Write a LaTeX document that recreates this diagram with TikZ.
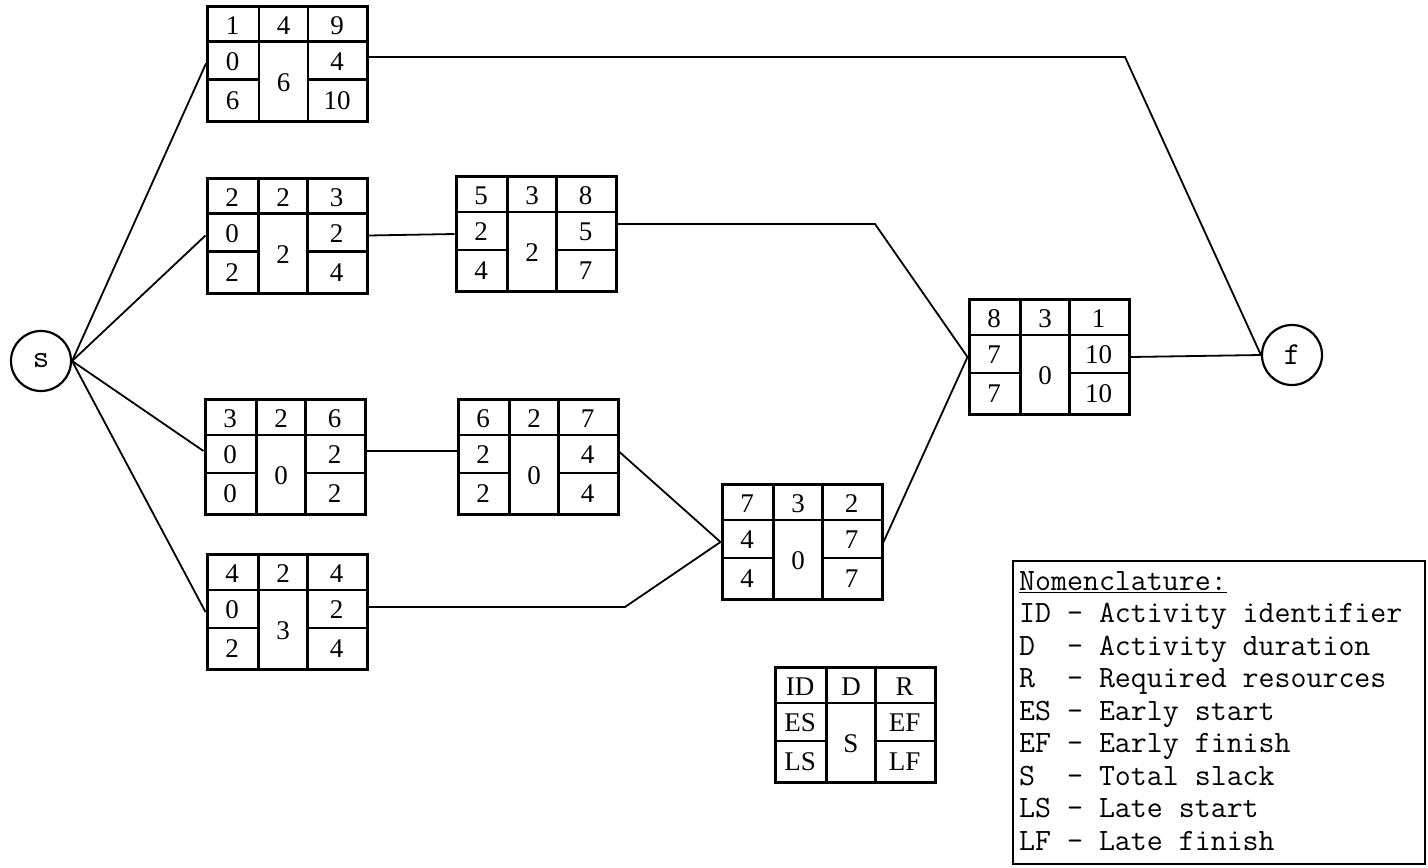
\documentclass[tikz,border=0pt]{standalone}
\usepackage{fontspec}
\setmainfont{Liberation Serif}
\usetikzlibrary{calc}
\tikzset{
  abox/.style={draw, line width=3pt, minimum width=160pt, minimum height=115pt, inner sep=0pt},
  inner/.style={line width=2.4pt},
  conn/.style={line width=1.8pt},
  term/.style={draw, circle, line width=2.2pt, minimum size=60pt, inner sep=0pt, font=\ttfamily\fontsize{32}{36}\selectfont},
  cell/.style={font=\fontsize{27}{32}\selectfont, inner sep=0pt}
}
\newcommand\fillbox[9]{%
  \begin{scope}[shift={(#1.north west)}]
    \draw[inner] (0,37) -- (160,37);
    \draw[inner] (53,0) -- (53,115);
    \draw[inner] (102,0) -- (102,115);
    \draw[inner] (0,75) -- (53,75);
    \draw[inner] (102,75) -- (160,75);
    \node[cell] (#1-id) at (26.5,21) {#2};
    \node[cell] (#1-d) at (77.5,21) {#3};
    \node[cell] (#1-r) at (131,21) {#4};
    \node[cell] (#1-es) at (26.5,57) {#5};
    \node[cell] (#1-s) at (77.5,78) {#6};
    \node[cell] (#1-ef) at (131,57) {#7};
    \node[cell] (#1-ls) at (26.5,96) {#8};
    \node[cell] (#1-lf) at (131,96) {#9};
  \end{scope}}
\begin{document}
\begin{tikzpicture}[x=1pt,y=-1pt]
\useasboundingbox[fill=white] (0,0) rectangle (1428,868);
% terminals
\node[term] (s) at (41,361) {s};
\node[term] (f) at (1292,355) {f};
% activity boxes
\node[abox] (a1) at (287.5,63.5) {};
\node[abox] (a2) at (287,235.5) {};
\node[abox] (a5) at (536,234) {};
\node[abox] (a3) at (285,457) {};
\node[abox] (a6) at (538,457) {};
\node[abox] (a4) at (287,612) {};
\node[abox] (a7) at (802,542) {};
\node[abox] (a8) at (1049,357) {};
\node[abox] (leg) at (855,725) {};
\fillbox{a1}{1}{4}{9}{0}{6}{4}{6}{10}
\fillbox{a2}{2}{2}{3}{0}{2}{2}{2}{4}
\fillbox{a5}{5}{3}{8}{2}{2}{5}{4}{7}
\fillbox{a3}{3}{2}{6}{0}{0}{2}{0}{2}
\fillbox{a6}{6}{2}{7}{2}{0}{4}{2}{4}
\fillbox{a4}{4}{2}{4}{0}{3}{2}{2}{4}
\fillbox{a7}{7}{3}{2}{4}{0}{7}{4}{7}
\fillbox{a8}{8}{3}{1}{7}{0}{10}{7}{10}
\fillbox{leg}{ID}{D}{R}{ES}{S}{EF}{LS}{LF}
% bend points
\coordinate (b1) at (1125,57);
\coordinate (b5) at (875,224);
\coordinate (b4) at (625,607);
% connectors
\draw[conn] (s.east) -- (a1.west);
\draw[conn] (s.east) -- (a2.west);
\draw[conn] (s.east) -- ([yshift=6pt]a3.west);
\draw[conn] (s.east) -- (a4.west);
\draw[conn] ([yshift=6.5pt]a1.east) -- (b1) -- (f.west);
\draw[conn] (a2.east) -- (a5.west);
\draw[conn] ([yshift=10pt]a5.east) -- (b5) -- (a8.west);
\draw[conn] ([yshift=6pt]a3.east) -- ([yshift=6pt]a6.west);
\draw[conn] ([yshift=5pt]a6.east) -- (a7.west);
\draw[conn] ([yshift=5pt]a4.east) -- (b4) -- (a7.west);
\draw[conn] (a7.east) -- (a8.west);
\draw[conn] (a8.east) -- (f.west);
% nomenclature
\node[draw, line width=2pt, minimum width=412pt, minimum height=303pt, inner sep=0pt] (nom) at (1219,712.5) {};
\node[anchor=north west, align=left, inner sep=0pt, font=\ttfamily\fontsize{31}{32.5}\selectfont] (nomtext) at (1019,571)
{\underline{Nomenclature:}\\
ID - Activity identifier\\
D{ }{ }- Activity duration\\
R{ }{ }- Required resources\\
ES - Early start\\
EF - Early finish\\
S{ }{ }- Total slack\\
LS - Late start\\
LF - Late finish};
\end{tikzpicture}
\end{document}
